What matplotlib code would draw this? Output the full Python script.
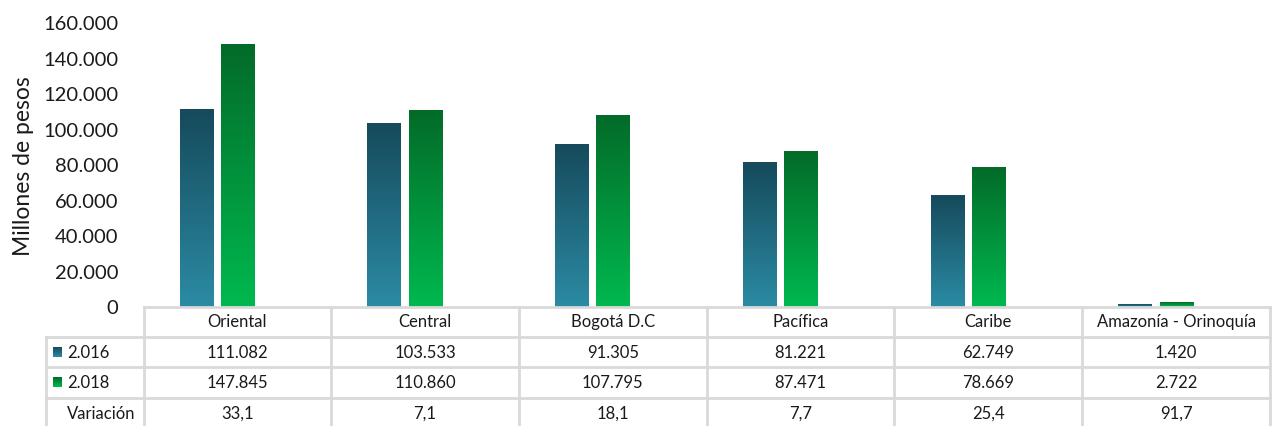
import numpy as np
import matplotlib
matplotlib.use('Agg')
import matplotlib.pyplot as plt
from matplotlib.colors import LinearSegmentedColormap
from matplotlib.ticker import FuncFormatter

# data
regions = ['Oriental', 'Central', 'Bogotá D.C', 'Pacífica', 'Caribe', 'Amazonía - Orinoquía']
v2016 = [111082, 103533, 91305, 81221, 62749, 1420]
v2018 = [147845, 110860, 107795, 87471, 78669, 2722]
variacion = ['33,1', '7,1', '18,1', '7,7', '25,4', '91,7']
series = ['2.016', '2.018']

plt.rcParams['font.family'] = ['Lato', 'DejaVu Sans']

W, H = 1273, 427
fig = plt.figure(figsize=(W / 100, H / 100), dpi=100)

def fx(px):
    return px / W

def fy(py):
    return 1 - py / H

# plot area in pixels
left, right, top, bottom = 143.5, 1270, 23.4, 307.5
ax = fig.add_axes([fx(left), fy(bottom), fx(right) - fx(left), fy(top) - fy(bottom)])

blue_cm = LinearSegmentedColormap.from_list('b', ['#2b8ba4', '#164a5c'])
green_cm = LinearSegmentedColormap.from_list('g', ['#00b94f', '#036b29'])
grad = np.linspace(0, 1, 256).reshape(-1, 1)

x = np.arange(len(regions))
bw = 0.18
b1 = ax.bar(x - 0.217, v2016, width=bw, color='none')
b2 = ax.bar(x + 0.002, v2018, width=bw, color='none')
for bars, cm in [(b1, blue_cm), (b2, green_cm)]:
    for r in bars:
        x0 = r.get_x()
        ax.imshow(grad, extent=[x0, x0 + r.get_width(), 0, r.get_height()],
                  origin='lower', cmap=cm, aspect='auto', zorder=2)

ax.set_xlim(-0.5, len(regions) - 0.5)
ax.set_ylim(0, 160000)
ax.set_yticks(np.arange(0, 160001, 20000))
ax.yaxis.set_major_formatter(FuncFormatter(lambda v, p: f'{int(v):,}'.replace(',', '.')))
ax.tick_params(axis='y', length=0, labelsize=14.5, pad=18, colors='#1a1a1a')
ax.set_xticks([])
for s in ax.spines.values():
    s.set_visible(False)
fig.text(fx(24), fy(166), 'Millones de pesos', rotation=90, ha='center', va='center',
         fontsize=16.5, color='#1a1a1a')

# data table
gc = '#d9d9d9'
col_w = (right - left) / len(regions)
rows_y = [307.5, 337.5, 368, 398.5, 429]
tl = 45.5
# horizontal lines
fig.add_artist(plt.Line2D([fx(left), fx(right)], [fy(rows_y[0])] * 2, color=gc, lw=2))
for yy in rows_y[1:]:
    fig.add_artist(plt.Line2D([fx(tl), fx(right)], [fy(yy)] * 2, color=gc, lw=2))
# vertical lines
for i in range(len(regions) + 1):
    xx = left + i * col_w
    fig.add_artist(plt.Line2D([fx(xx)] * 2, [fy(rows_y[0]), fy(rows_y[-1])], color=gc, lw=2))
fig.add_artist(plt.Line2D([fx(tl)] * 2, [fy(rows_y[1]), fy(rows_y[-1])], color=gc, lw=2))

ts = 12
tc = '#1a1a1a'
for i, name in enumerate(regions):
    cx = left + (i + 0.5) * col_w
    fig.text(fx(cx), fy((rows_y[0] + rows_y[1]) / 2), name, ha='center', va='center', fontsize=ts, color=tc)
    fig.text(fx(cx), fy((rows_y[1] + rows_y[2]) / 2), f'{v2016[i]:,}'.replace(',', '.'),
             ha='center', va='center', fontsize=ts, color=tc)
    fig.text(fx(cx), fy((rows_y[2] + rows_y[3]) / 2), f'{v2018[i]:,}'.replace(',', '.'),
             ha='center', va='center', fontsize=ts, color=tc)
    fig.text(fx(cx), fy((rows_y[3] + rows_y[4]) / 2), variacion[i],
             ha='center', va='center', fontsize=ts, color=tc)

# legend keys in the table
for k, (lab, cm) in enumerate(zip(series, [blue_cm, green_cm])):
    yc = (rows_y[k + 1] + rows_y[k + 2]) / 2
    kax = fig.add_axes([fx(53), fy(yc + 5), fx(9), 10 / H])
    kax.imshow(grad, origin='lower', cmap=cm, aspect='auto', extent=[0, 1, 0, 1])
    kax.axis('off')
    fig.text(fx(67), fy(yc), lab, ha='left', va='center', fontsize=ts, color=tc)
fig.text(fx(67), fy((rows_y[3] + rows_y[4]) / 2), 'Variación', ha='left', va='center',
         fontsize=ts, color=tc)

fig.savefig('out.png', dpi=100)
